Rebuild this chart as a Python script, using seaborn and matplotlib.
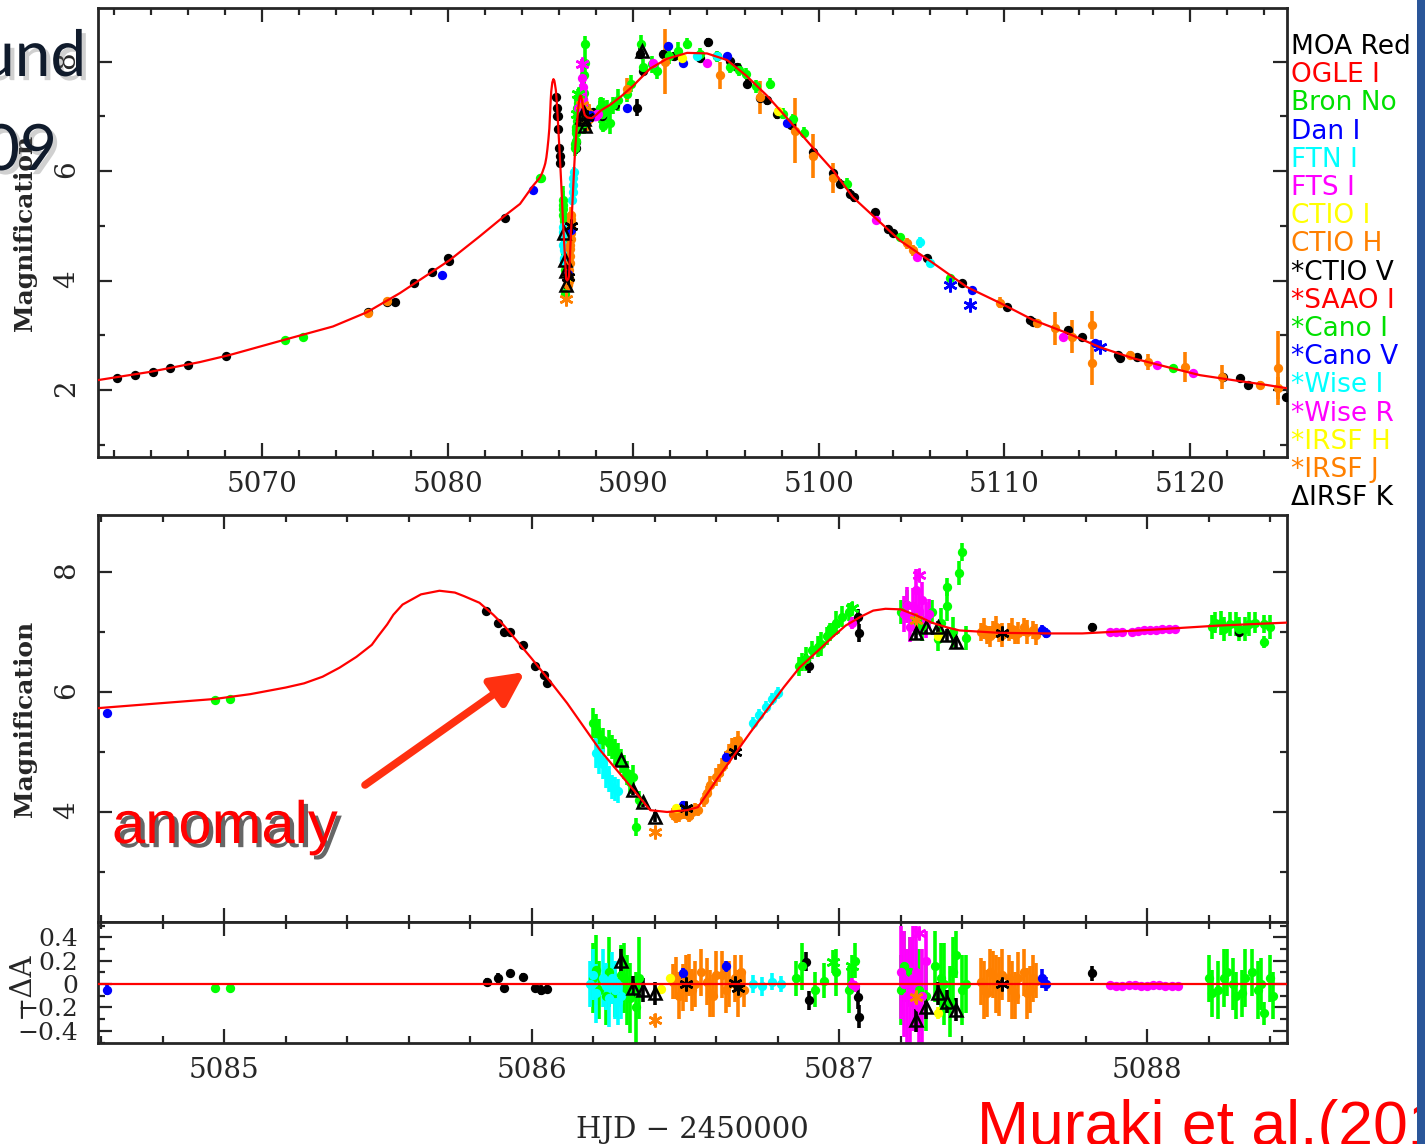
import numpy as np
import pandas as pd
import seaborn as sns
import matplotlib.pyplot as plt
import matplotlib.patheffects as pe
from matplotlib.patches import Rectangle
from matplotlib.ticker import MultipleLocator, FuncFormatter

W, H = 1425, 1144

# best-fit model light curve (HJD-2450000, magnification)
model_t = [5061.16, 5063.96, 5066.66, 5068.27, 5071.13, 5073.82, 5075.65, 5077.43,
           5080.10, 5081.70, 5083.10, 5083.90, 5084.597, 5084.795, 5084.97, 5085.085,
           5085.20, 5085.26, 5085.32, 5085.375, 5085.43, 5085.48, 5085.50, 5085.53,
           5085.55, 5085.58, 5085.64, 5085.70, 5085.75, 5085.78, 5085.83, 5085.875,
           5085.91, 5086.00, 5086.06, 5086.115, 5086.222, 5086.33, 5086.385, 5086.44,
           5086.505, 5086.54, 5086.57, 5086.60, 5086.71, 5086.82, 5086.87, 5086.93,
           5086.98, 5087.02, 5087.07, 5087.11, 5087.15, 5087.20, 5087.25, 5087.30,
           5087.35, 5087.39, 5087.52, 5087.68, 5087.79, 5088.01, 5088.23, 5088.455,
           5088.80, 5089.40, 5090.00, 5090.90, 5091.80, 5092.90, 5093.97, 5095.05,
           5096.10, 5097.20, 5098.07, 5098.98, 5099.90, 5100.77, 5101.84, 5102.80,
           5104.37, 5106.15, 5107.98, 5109.76, 5111.54, 5113.37, 5115.15, 5116.92,
           5118.76, 5120.54, 5122.31, 5124.15, 5125.25]
model_a = [2.18, 2.33, 2.51, 2.64, 2.91, 3.16, 3.42, 3.77,
           4.37, 4.80, 5.19, 5.40, 5.73, 5.81, 5.88, 5.96,
           6.07, 6.14, 6.25, 6.40, 6.58, 6.78, 6.92, 7.12,
           7.28, 7.45, 7.62, 7.68, 7.65, 7.59, 7.48, 7.28,
           7.10, 6.55, 6.17, 5.81, 5.03, 4.37, 4.03, 4.00,
           4.03, 4.08, 4.30, 4.53, 5.32, 6.08, 6.40, 6.68,
           6.92, 7.10, 7.25, 7.35, 7.38, 7.37, 7.27, 7.15,
           7.07, 7.02, 6.98, 6.97, 6.97, 7.03, 7.10, 7.15,
           7.22, 7.38, 7.56, 7.87, 8.05, 8.16, 8.15, 8.03,
           7.74, 7.38, 7.05, 6.70, 6.34, 6.01, 5.52, 5.22,
           4.73, 4.32, 3.88, 3.59, 3.28, 3.04, 2.78, 2.58,
           2.42, 2.27, 2.18, 2.09, 2.03]

# data points per observatory: (t, magnification, error) and residuals (t, -dA, error)
moa_red = [(5062.18, 2.22, 0.04), (5063.15, 2.27, 0.04), (5064.12, 2.33, 0.04), (5065.04, 2.40, 0.04),
           (5066.00, 2.46, 0.03), (5068.06, 2.62, 0.03), (5075.70, 3.42, 0.05), (5076.73, 3.60, 0.05),
           (5077.16, 3.60, 0.04), (5078.20, 3.95, 0.05), (5079.15, 4.15, 0.05), (5080.00, 4.42, 0.05),
           (5080.10, 4.36, 0.05), (5083.10, 5.14, 0.05), (5085.85, 7.35, 0.04), (5085.89, 7.15, 0.05),
           (5085.91, 7.00, 0.05), (5085.93, 7.00, 0.04), (5085.97, 6.77, 0.05), (5086.01, 6.42, 0.05),
           (5086.04, 6.28, 0.05), (5086.05, 6.15, 0.05), (5086.89, 6.53, 0.10), (5086.90, 6.42, 0.10),
           (5087.06, 7.25, 0.12), (5087.065, 6.98, 0.15), (5087.82, 7.08, 0.06), (5088.30, 7.00, 0.08),
           (5089.00, 7.20, 0.08), (5090.20, 7.16, 0.15), (5090.36, 8.14, 0.10), (5090.52, 7.83, 0.10),
           (5091.60, 8.14, 0.08), (5092.20, 8.10, 0.08), (5093.60, 8.07, 0.08), (5094.03, 8.35, 0.08),
           (5094.50, 8.10, 0.08), (5095.20, 8.02, 0.08), (5095.60, 7.90, 0.08), (5096.13, 7.60, 0.08),
           (5096.83, 7.34, 0.08), (5097.20, 7.29, 0.08), (5097.74, 7.05, 0.10), (5098.50, 6.85, 0.08),
           (5099.68, 6.34, 0.08), (5100.76, 5.96, 0.08), (5101.14, 5.77, 0.08), (5101.68, 5.59, 0.08),
           (5101.90, 5.52, 0.08), (5103.00, 5.25, 0.06), (5103.70, 4.95, 0.06), (5104.00, 4.86, 0.06),
           (5105.83, 4.41, 0.06), (5107.71, 3.95, 0.05), (5110.13, 3.51, 0.05), (5111.37, 3.28, 0.05),
           (5111.55, 3.25, 0.06), (5113.42, 3.09, 0.05), (5114.18, 2.97, 0.05), (5116.12, 2.64, 0.05),
           (5116.20, 2.58, 0.06), (5117.14, 2.60, 0.05), (5121.77, 2.24, 0.05), (5122.69, 2.22, 0.05),
           (5123.12, 2.09, 0.05), (5125.15, 1.87, 0.05)]
moa_red_res = [(5085.855, 0.02, 0.03), (5085.89, 0.05, 0.04), (5085.91, -0.03, 0.04), (5085.93, 0.09, 0.03),
               (5085.97, 0.06, 0.03), (5086.01, -0.03, 0.04), (5086.03, -0.05, 0.04), (5086.05, -0.04, 0.04),
               (5086.89, 0.19, 0.08), (5086.90, -0.14, 0.08), (5087.06, -0.11, 0.10), (5087.065, -0.28, 0.10),
               (5087.82, 0.09, 0.06)]

bron_no = [(5071.24, 2.91, 0.05), (5072.20, 2.97, 0.05), (5084.97, 5.87, 0.05), (5085.02, 5.88, 0.05),
           (5086.20, 5.48, 0.25), (5086.21, 5.38, 0.25), (5086.22, 5.30, 0.25), (5086.23, 5.20, 0.20),
           (5086.25, 5.15, 0.22), (5086.26, 5.08, 0.20), (5086.27, 5.00, 0.22), (5086.28, 4.95, 0.20),
           (5086.29, 4.85, 0.20), (5086.30, 4.75, 0.20), (5086.31, 4.65, 0.20), (5086.32, 4.50, 0.20),
           (5086.33, 4.58, 0.20), (5086.35, 4.20, 0.15), (5086.34, 3.75, 0.15), (5086.87, 6.42, 0.15),
           (5086.88, 6.50, 0.15), (5086.89, 6.55, 0.20), (5086.91, 6.70, 0.15), (5086.93, 6.75, 0.18),
           (5086.94, 6.80, 0.20), (5086.96, 6.92, 0.15), (5086.97, 7.00, 0.15), (5086.99, 7.15, 0.20),
           (5087.01, 7.25, 0.18), (5087.03, 7.32, 0.15), (5087.20, 7.32, 0.20), (5087.22, 7.45, 0.25),
           (5087.25, 7.20, 0.25), (5087.27, 7.10, 0.25), (5087.30, 7.32, 0.20), (5087.32, 6.87, 0.20),
           (5087.33, 7.15, 0.25), (5087.35, 7.42, 0.25), (5087.35, 7.75, 0.15), (5087.37, 7.00, 0.25),
           (5087.39, 7.98, 0.20), (5087.40, 8.32, 0.15), (5087.41, 6.90, 0.20), (5088.21, 7.08, 0.20),
           (5088.22, 7.15, 0.18), (5088.24, 7.15, 0.20), (5088.25, 7.05, 0.20), (5088.27, 7.12, 0.20),
           (5088.29, 7.12, 0.20), (5088.30, 7.05, 0.20), (5088.32, 7.05, 0.20), (5088.33, 7.12, 0.20),
           (5088.35, 7.15, 0.18), (5088.38, 7.12, 0.15), (5088.38, 6.82, 0.10), (5088.40, 7.08, 0.20),
           (5088.58, 7.10, 0.20), (5088.75, 6.87, 0.20), (5088.90, 7.20, 0.15), (5089.20, 7.30, 0.20),
           (5089.66, 7.41, 0.15), (5089.90, 7.60, 0.15), (5090.40, 8.33, 0.15), (5090.50, 7.90, 0.15),
           (5091.00, 7.95, 0.15), (5091.28, 7.83, 0.15), (5091.90, 8.10, 0.15), (5092.40, 8.20, 0.15),
           (5092.90, 8.33, 0.10), (5093.60, 8.14, 0.10), (5094.50, 8.10, 0.10), (5095.20, 7.90, 0.10),
           (5095.70, 7.85, 0.12), (5096.10, 7.78, 0.10), (5096.60, 7.55, 0.12), (5097.37, 7.60, 0.10),
           (5098.07, 7.05, 0.10), (5098.60, 6.95, 0.10), (5099.20, 6.70, 0.10), (5101.50, 5.77, 0.10),
           (5104.37, 4.79, 0.05), (5107.07, 4.04, 0.05), (5119.08, 2.40, 0.05)]
bron_no_res = [(5084.97, -0.03, 0.03), (5085.02, -0.03, 0.03), (5086.20, 0.05, 0.30), (5086.21, 0.12, 0.30),
               (5086.22, -0.05, 0.25), (5086.24, -0.10, 0.25), (5086.25, 0.10, 0.30), (5086.27, -0.08, 0.20),
               (5086.29, 0.08, 0.25), (5086.30, 0.05, 0.30), (5086.31, -0.05, 0.30), (5086.32, -0.12, 0.30),
               (5086.34, -0.20, 0.30), (5086.35, 0.05, 0.35), (5086.86, 0.05, 0.15), (5086.88, 0.15, 0.20),
               (5086.92, -0.05, 0.15), (5086.95, 0.03, 0.15), (5086.99, 0.10, 0.20), (5087.03, -0.05, 0.20),
               (5087.05, 0.20, 0.15), (5087.20, -0.05, 0.30), (5087.21, 0.15, 0.30), (5087.23, 0.10, 0.30),
               (5087.26, -0.05, 0.35), (5087.28, -0.10, 0.30), (5087.31, 0.15, 0.30), (5087.33, 0.05, 0.30),
               (5087.34, 0.00, 0.35), (5087.36, -0.15, 0.30), (5087.37, 0.10, 0.30), (5087.38, 0.25, 0.20),
               (5087.40, -0.05, 0.30), (5087.41, 0.00, 0.25), (5088.20, 0.05, 0.20), (5088.21, -0.08, 0.20),
               (5088.23, -0.05, 0.25), (5088.25, 0.05, 0.25), (5088.26, 0.10, 0.20), (5088.28, 0.00, 0.22),
               (5088.29, -0.10, 0.20), (5088.31, -0.08, 0.20), (5088.32, 0.05, 0.25), (5088.34, 0.10, 0.20),
               (5088.36, -0.05, 0.25), (5088.37, 0.00, 0.22), (5088.38, -0.25, 0.10), (5088.40, 0.05, 0.20),
               (5088.41, -0.10, 0.20)]

dan_i = [(5079.70, 4.10, 0.04), (5084.62, 5.65, 0.04), (5086.49, 4.12, 0.06), (5086.63, 4.92, 0.08),
         (5087.66, 7.03, 0.08), (5087.67, 6.98, 0.08), (5089.66, 7.16, 0.05), (5091.87, 8.29, 0.05),
         (5092.68, 7.98, 0.05), (5095.05, 8.10, 0.05), (5098.28, 6.87, 0.05), (5108.25, 3.82, 0.06),
         (5114.90, 2.85, 0.05)]
dan_i_res = [(5084.62, -0.05, 0.04), (5086.49, 0.09, 0.05), (5086.63, 0.15, 0.05), (5087.66, 0.05, 0.08),
             (5087.67, 0.00, 0.06)]

ftn_i = [(5086.21, 4.98, 0.25), (5086.22, 4.88, 0.25), (5086.23, 4.80, 0.25), (5086.24, 4.65, 0.25),
         (5086.25, 4.55, 0.22), (5086.26, 4.42, 0.20), (5086.27, 4.38, 0.20), (5086.28, 4.35, 0.20),
         (5086.72, 5.48, 0.10), (5086.74, 5.62, 0.10), (5086.76, 5.75, 0.10), (5086.78, 5.88, 0.10),
         (5086.80, 5.98, 0.10), (5093.43, 8.10, 0.05), (5094.50, 8.10, 0.05), (5105.45, 4.70, 0.10),
         (5106.00, 4.32, 0.08)]
ftn_i_res = [(5086.19, 0.00, 0.20), (5086.20, 0.08, 0.22), (5086.21, -0.08, 0.25), (5086.23, 0.05, 0.25),
             (5086.24, -0.02, 0.20), (5086.25, -0.12, 0.25), (5086.26, 0.05, 0.22), (5086.27, -0.05, 0.25),
             (5086.28, -0.15, 0.20), (5086.29, -0.10, 0.20), (5086.72, 0.00, 0.08), (5086.75, -0.02, 0.08),
             (5086.78, 0.02, 0.07), (5086.81, 0.00, 0.07)]

fts_i = [(5087.04, 7.15, 0.10), (5087.21, 7.30, 0.30), (5087.22, 7.45, 0.30), (5087.23, 7.08, 0.25),
         (5087.24, 7.42, 0.30), (5087.25, 7.70, 0.35), (5087.26, 7.35, 0.35), (5087.27, 7.53, 0.30),
         (5087.28, 7.20, 0.30), (5087.29, 7.30, 0.25), (5087.88, 7.00, 0.04), (5087.90, 7.00, 0.04),
         (5087.92, 7.00, 0.04), (5087.95, 7.00, 0.04), (5087.97, 7.01, 0.04), (5087.99, 7.02, 0.04),
         (5088.01, 7.02, 0.04), (5088.03, 7.03, 0.04), (5088.05, 7.04, 0.04), (5088.07, 7.05, 0.04),
         (5088.09, 7.05, 0.04), (5091.06, 7.98, 0.05), (5094.00, 7.98, 0.05), (5103.10, 5.10, 0.05),
         (5105.30, 4.43, 0.08), (5113.15, 2.97, 0.04), (5118.22, 2.46, 0.04), (5120.16, 2.31, 0.04)]
fts_i_res = [(5087.04, 0.00, 0.05), (5087.05, -0.02, 0.05), (5087.20, 0.10, 0.40), (5087.21, 0.00, 0.45),
             (5087.22, -0.10, 0.40), (5087.23, -0.05, 0.45), (5087.24, 0.05, 0.45), (5087.25, 0.10, 0.40),
             (5087.26, -0.20, 0.30), (5087.27, -0.10, 0.40), (5087.28, 0.20, 0.25), (5087.88, -0.01, 0.03),
             (5087.90, -0.02, 0.03), (5087.92, -0.02, 0.03), (5087.94, -0.01, 0.03), (5087.96, -0.01, 0.03),
             (5087.98, -0.02, 0.03), (5088.00, -0.02, 0.03), (5088.02, -0.01, 0.03), (5088.04, -0.01, 0.03),
             (5088.06, -0.02, 0.03), (5088.08, -0.02, 0.03), (5088.10, -0.02, 0.03)]

ctio_i = [(5086.47, 4.07, 0.05), (5087.32, 6.92, 0.05), (5092.60, 8.07, 0.05), (5097.80, 7.10, 0.05)]
ctio_i_res = [(5086.42, -0.04, 0.04), (5086.45, 0.05, 0.03), (5087.32, -0.25, 0.05)]

ctio_h = [(5075.70, 3.40, 0.05), (5076.73, 3.62, 0.05), (5086.46, 3.97, 0.10), (5086.47, 3.92, 0.10),
          (5086.48, 3.95, 0.12), (5086.49, 4.00, 0.12), (5086.50, 3.98, 0.10), (5086.51, 3.93, 0.10),
          (5086.52, 4.00, 0.12), (5086.53, 4.05, 0.10), (5086.54, 4.03, 0.10), (5086.56, 4.20, 0.12),
          (5086.57, 4.32, 0.12), (5086.58, 4.45, 0.15), (5086.60, 4.58, 0.15), (5086.61, 4.65, 0.15),
          (5086.62, 4.75, 0.15), (5086.63, 4.87, 0.15), (5086.64, 4.98, 0.15), (5086.65, 5.08, 0.15),
          (5086.66, 5.12, 0.12), (5086.67, 5.20, 0.15), (5087.46, 7.00, 0.15), (5087.47, 7.05, 0.18),
          (5087.48, 6.95, 0.15), (5087.49, 6.92, 0.18), (5087.50, 7.03, 0.15), (5087.51, 7.08, 0.18),
          (5087.52, 6.98, 0.15), (5087.53, 6.95, 0.20), (5087.55, 7.00, 0.15), (5087.56, 7.05, 0.18),
          (5087.57, 6.95, 0.15), (5087.58, 6.98, 0.18), (5087.60, 7.07, 0.15), (5087.61, 7.00, 0.20),
          (5087.63, 7.03, 0.15), (5087.64, 6.95, 0.18), (5089.66, 7.50, 0.20), (5091.71, 8.00, 0.60),
          (5094.67, 7.75, 0.25), (5096.83, 7.35, 0.30), (5098.72, 6.74, 0.60), (5099.68, 6.28, 0.40),
          (5100.76, 5.87, 0.27), (5104.75, 4.68, 0.10), (5105.07, 4.55, 0.10), (5109.76, 3.59, 0.10),
          (5111.75, 3.22, 0.08), (5112.72, 3.13, 0.30), (5113.64, 2.97, 0.30), (5114.70, 3.19, 0.25),
          (5114.70, 2.49, 0.40), (5116.76, 2.64, 0.08), (5117.73, 2.51, 0.15), (5119.73, 2.42, 0.28),
          (5121.72, 2.24, 0.22), (5123.77, 2.09, 0.08), (5124.74, 2.40, 0.68), (5124.74, 2.04, 0.20)]
ctio_h_res = [(5086.46, 0.02, 0.15), (5086.47, 0.05, 0.18), (5086.48, -0.10, 0.20), (5086.49, -0.03, 0.20),
              (5086.50, 0.05, 0.20), (5086.51, 0.08, 0.18), (5086.52, -0.05, 0.18), (5086.53, 0.00, 0.20),
              (5086.55, 0.10, 0.20), (5086.57, 0.02, 0.20), (5086.58, -0.08, 0.20), (5086.59, -0.10, 0.18),
              (5086.60, 0.08, 0.20), (5086.62, 0.08, 0.20), (5086.63, -0.05, 0.20), (5086.64, 0.00, 0.20),
              (5086.66, 0.05, 0.20), (5086.67, -0.08, 0.20), (5086.68, 0.10, 0.15), (5086.69, -0.05, 0.15),
              (5087.46, 0.02, 0.20), (5087.47, -0.05, 0.25), (5087.48, -0.08, 0.20), (5087.49, 0.10, 0.20),
              (5087.50, 0.08, 0.20), (5087.51, 0.00, 0.25), (5087.52, -0.02, 0.25), (5087.53, 0.08, 0.22),
              (5087.55, 0.05, 0.20), (5087.56, -0.05, 0.25), (5087.57, -0.10, 0.20), (5087.58, 0.05, 0.22),
              (5087.60, 0.10, 0.20), (5087.61, -0.08, 0.22), (5087.62, -0.05, 0.20), (5087.63, 0.05, 0.20),
              (5087.64, 0.03, 0.15)]

ctio_v = [(5086.50, 4.07, 0.06), (5086.66, 5.00, 0.06), (5087.53, 6.98, 0.06)]
ctio_v_res = [(5086.50, 0.00, 0.04), (5086.66, 0.01, 0.04), (5086.67, -0.03, 0.04), (5087.53, 0.00, 0.05)]

cano_i = [(5086.98, 7.05, 0.10), (5087.04, 7.40, 0.10)]
cano_i_res = [(5086.98, 0.19, 0.10), (5087.04, 0.15, 0.10)]

cano_v = [(5107.07, 3.91, 0.05), (5108.14, 3.55, 0.06), (5115.15, 2.78, 0.05)]
cano_v_res = []

wise_r = [(5087.26, 7.95, 0.10)]
wise_r_res = [(5087.26, 0.44, 0.05)]

irsf_j = [(5086.40, 3.67, 0.05), (5087.25, 7.20, 0.05)]
irsf_j_res = [(5086.40, -0.31, 0.05), (5087.25, -0.11, 0.05)]

irsf_k = [(5086.29, 4.87, 0.08), (5086.33, 4.37, 0.08), (5086.36, 4.17, 0.08), (5086.40, 3.92, 0.08),
          (5087.25, 6.98, 0.10), (5087.28, 7.07, 0.10), (5087.32, 7.07, 0.10), (5087.35, 6.95, 0.10),
          (5087.38, 6.82, 0.10), (5090.47, 8.20, 0.10)]
irsf_k_res = [(5086.29, 0.20, 0.10), (5086.33, -0.03, 0.10), (5086.36, -0.05, 0.10), (5086.40, -0.08, 0.10),
              (5087.25, -0.31, 0.10), (5087.28, -0.20, 0.10), (5087.32, -0.08, 0.10), (5087.35, -0.15, 0.10),
              (5087.38, -0.22, 0.10)]

legend_labels = ["MOA Red", "OGLE I", "Bron No", "Dan I", "FTN I", "FTS I", "CTIO I", "CTIO H",
                 "*CTIO V", "*SAAO I", "*Cano I", "*Cano V", "*Wise I", "*Wise R", "*IRSF H",
                 "*IRSF J", "\u0394IRSF K"]
legend_colors = ["black", "#ff0000", "#00e000", "#0000ff", "#00ffff", "#ff00ff", "#ffff00", "#ff8000",
                 "black", "#ff0000", "#00e000", "#0000ff", "#00ffff", "#ff00ff", "#ffff00", "#ff8000",
                 "black"]

GREEN, BLUE, CYAN, MAG, YEL, ORA = "#00ff00", "#0000ff", "#00ffff", "#ff00ff", "#ffff00", "#ff8000"
series = [
    (moa_red, moa_red_res, "black", "o"),
    (bron_no, bron_no_res, GREEN, "o"),
    (ftn_i, ftn_i_res, CYAN, "o"),
    (ctio_h, ctio_h_res, ORA, "o"),
    (fts_i, fts_i_res, MAG, "o"),
    (dan_i, dan_i_res, BLUE, "o"),
    (ctio_i, ctio_i_res, YEL, "o"),
    (ctio_v, ctio_v_res, "black", "*"),
    (cano_i, cano_i_res, GREEN, "*"),
    (cano_v, cano_v_res, BLUE, "*"),
    (wise_r, wise_r_res, MAG, "*"),
    (irsf_j, irsf_j_res, ORA, "*"),
    (irsf_k, irsf_k_res, "black", "^"),
]

sns.set_style("ticks")
plt.rcParams['font.family'] = ['DejaVu Serif']
plt.rcParams['axes.linewidth'] = 2.0


def draw_points(ax, pts, colour, marker):
    if not pts:
        return
    df = pd.DataFrame(pts, columns=["t", "v", "e"])
    ax.errorbar(df.t, df.v, yerr=df.e, fmt="none", ecolor=colour, elinewidth=2.6,
                capsize=0, zorder=2)
    if marker == "o":
        sns.scatterplot(data=df, x="t", y="v", ax=ax, color=colour, s=45, linewidth=0,
                        zorder=3, legend=False)
    elif marker == "*":
        ax.plot(df.t, df.v, ls="none", marker=(6, 2, 0), ms=10, mew=1.8, color=colour, zorder=3)
    else:
        ax.plot(df.t, df.v, ls="none", marker="^", ms=9, mfc="none", mec=colour, mew=1.8, zorder=3)


def style_axis(ax):
    for s in ax.spines.values():
        s.set_linewidth(2.0)
    ax.tick_params(which="both", direction="in", top=True, right=True, width=1.6)
    ax.tick_params(which="major", length=10)
    ax.tick_params(which="minor", length=5)
    ax.set_xlabel("")
    ax.set_ylabel("")


fig = plt.figure(figsize=(W / 100, H / 100), dpi=100)
ax_top = fig.add_axes([98 / W, 1 - 457 / H, 1189 / W, 449 / H])
ax_mid = fig.add_axes([98 / W, 1 - 922 / H, 1189 / W, 407 / H])
ax_res = fig.add_axes([98 / W, 1 - 1043 / H, 1189 / W, 121 / H], sharex=ax_mid)

for ax in (ax_top, ax_mid):
    for pts, res, colour, marker in series:
        draw_points(ax, pts, colour, marker)
    sns.lineplot(x=model_t, y=model_a, ax=ax, color="red", lw=1.6, sort=False,
                 estimator=None, zorder=5)

for pts, res, colour, marker in series:
    draw_points(ax_res, res, colour, marker)
ax_res.axhline(0, color="red", lw=1.6, zorder=5)

# top panel
style_axis(ax_top)
ax_top.set_xlim(5061.164, 5125.22)
ax_top.set_ylim(0.775, 8.98)
ax_top.xaxis.set_major_locator(MultipleLocator(10))
ax_top.xaxis.set_minor_locator(MultipleLocator(2))
ax_top.yaxis.set_major_locator(MultipleLocator(2))
ax_top.yaxis.set_minor_locator(MultipleLocator(1))
ax_top.xaxis.set_major_formatter(FuncFormatter(lambda v, p: f"{v:.0f}"))
ax_top.tick_params(axis="x", labelsize=20, pad=10)
ax_top.tick_params(axis="y", labelsize=20, pad=13, labelrotation=90)

# middle panel
style_axis(ax_mid)
ax_mid.set_xlim(5084.590, 5088.455)
ax_mid.set_ylim(2.17, 8.94)
ax_mid.xaxis.set_major_locator(MultipleLocator(1))
ax_mid.xaxis.set_minor_locator(MultipleLocator(0.2))
ax_mid.yaxis.set_major_locator(MultipleLocator(2))
ax_mid.yaxis.set_minor_locator(MultipleLocator(1))
ax_mid.tick_params(axis="x", labelbottom=False)
ax_mid.tick_params(axis="y", labelsize=20, pad=13, labelrotation=90)

# residual panel
style_axis(ax_res)
ax_res.set_ylim(-0.504, 0.53)
ax_res.yaxis.set_major_locator(MultipleLocator(0.2))
ax_res.yaxis.set_minor_locator(MultipleLocator(0.1))
ax_res.xaxis.set_major_formatter(FuncFormatter(lambda v, p: f"{v:.0f}"))
ax_res.yaxis.set_major_formatter(
    FuncFormatter(lambda v, p: "0" if abs(v) < 1e-9 else f"{v:.1f}".replace("-", "\u2212")))
ax_res.tick_params(axis="x", labelsize=20, pad=10)
ax_res.tick_params(axis="y", labelsize=18, pad=14)

for ax in (ax_top, ax_mid):
    ax.set_ylabel("Magnification", fontsize=18, fontweight="bold")
    ax.yaxis.set_label_coords(-0.0513, 0.5)
ax_res.set_ylabel("\u2212\u0394A", fontsize=21)
ax_res.yaxis.set_label_coords(-0.0530, 0.48)
ax_res.set_xlabel("HJD \u2212 2450000", fontsize=21)
ax_res.xaxis.set_label_coords(0.5, -0.60)

# dataset key on the right
for i, (lab, col) in enumerate(zip(legend_labels, legend_colors)):
    fig.text(1291 / W, 1 - (47 + i * 28.2) / H, lab, color=col, fontsize=19,
             family="DejaVu Sans", ha="left", va="center")

# slide overlays
soft = [pe.SimplePatchShadow(offset=(3, -3), shadow_rgbFace="#666666", alpha=0.3), pe.Normal()]
fig.text(86 / W, 1 - 76 / H, "und", fontsize=46, family="Lato", color="#101b2c",
         ha="right", va="baseline", path_effects=soft, zorder=20)
fig.text(57 / W, 1 - 170 / H, "09", fontsize=46, family="Lato", color="#101b2c",
         ha="right", va="baseline", path_effects=soft, zorder=20)

hard = [pe.SimplePatchShadow(offset=(3, -3), shadow_rgbFace="black", alpha=0.6), pe.Normal()]
fig.text(112 / W, 1 - 843 / H, "anomaly", fontsize=43, family="Liberation Sans", color="#ff0000",
         ha="left", va="baseline", path_effects=hard, zorder=20)
ax_mid.annotate("", xy=(525, H - 672), xytext=(365, H - 785), xycoords="figure pixels",
                textcoords="figure pixels",
                arrowprops=dict(arrowstyle="-|>,head_width=0.4,head_length=0.8", lw=5.5,
                                color="#ff3010", mutation_scale=25, shrinkA=0, shrinkB=0),
                zorder=20)

fig.text(977 / W, 1 - 1145 / H, "Muraki et al.(2011)", fontsize=45, family="Liberation Sans",
         color="#ff0000", ha="left", va="baseline", zorder=20)
fig.add_artist(Rectangle((1417 / W, 0), 8 / W, 1, transform=fig.transFigure,
                         facecolor="#2a5699", edgecolor="none", zorder=30))

fig.savefig("out.png", dpi=100)
